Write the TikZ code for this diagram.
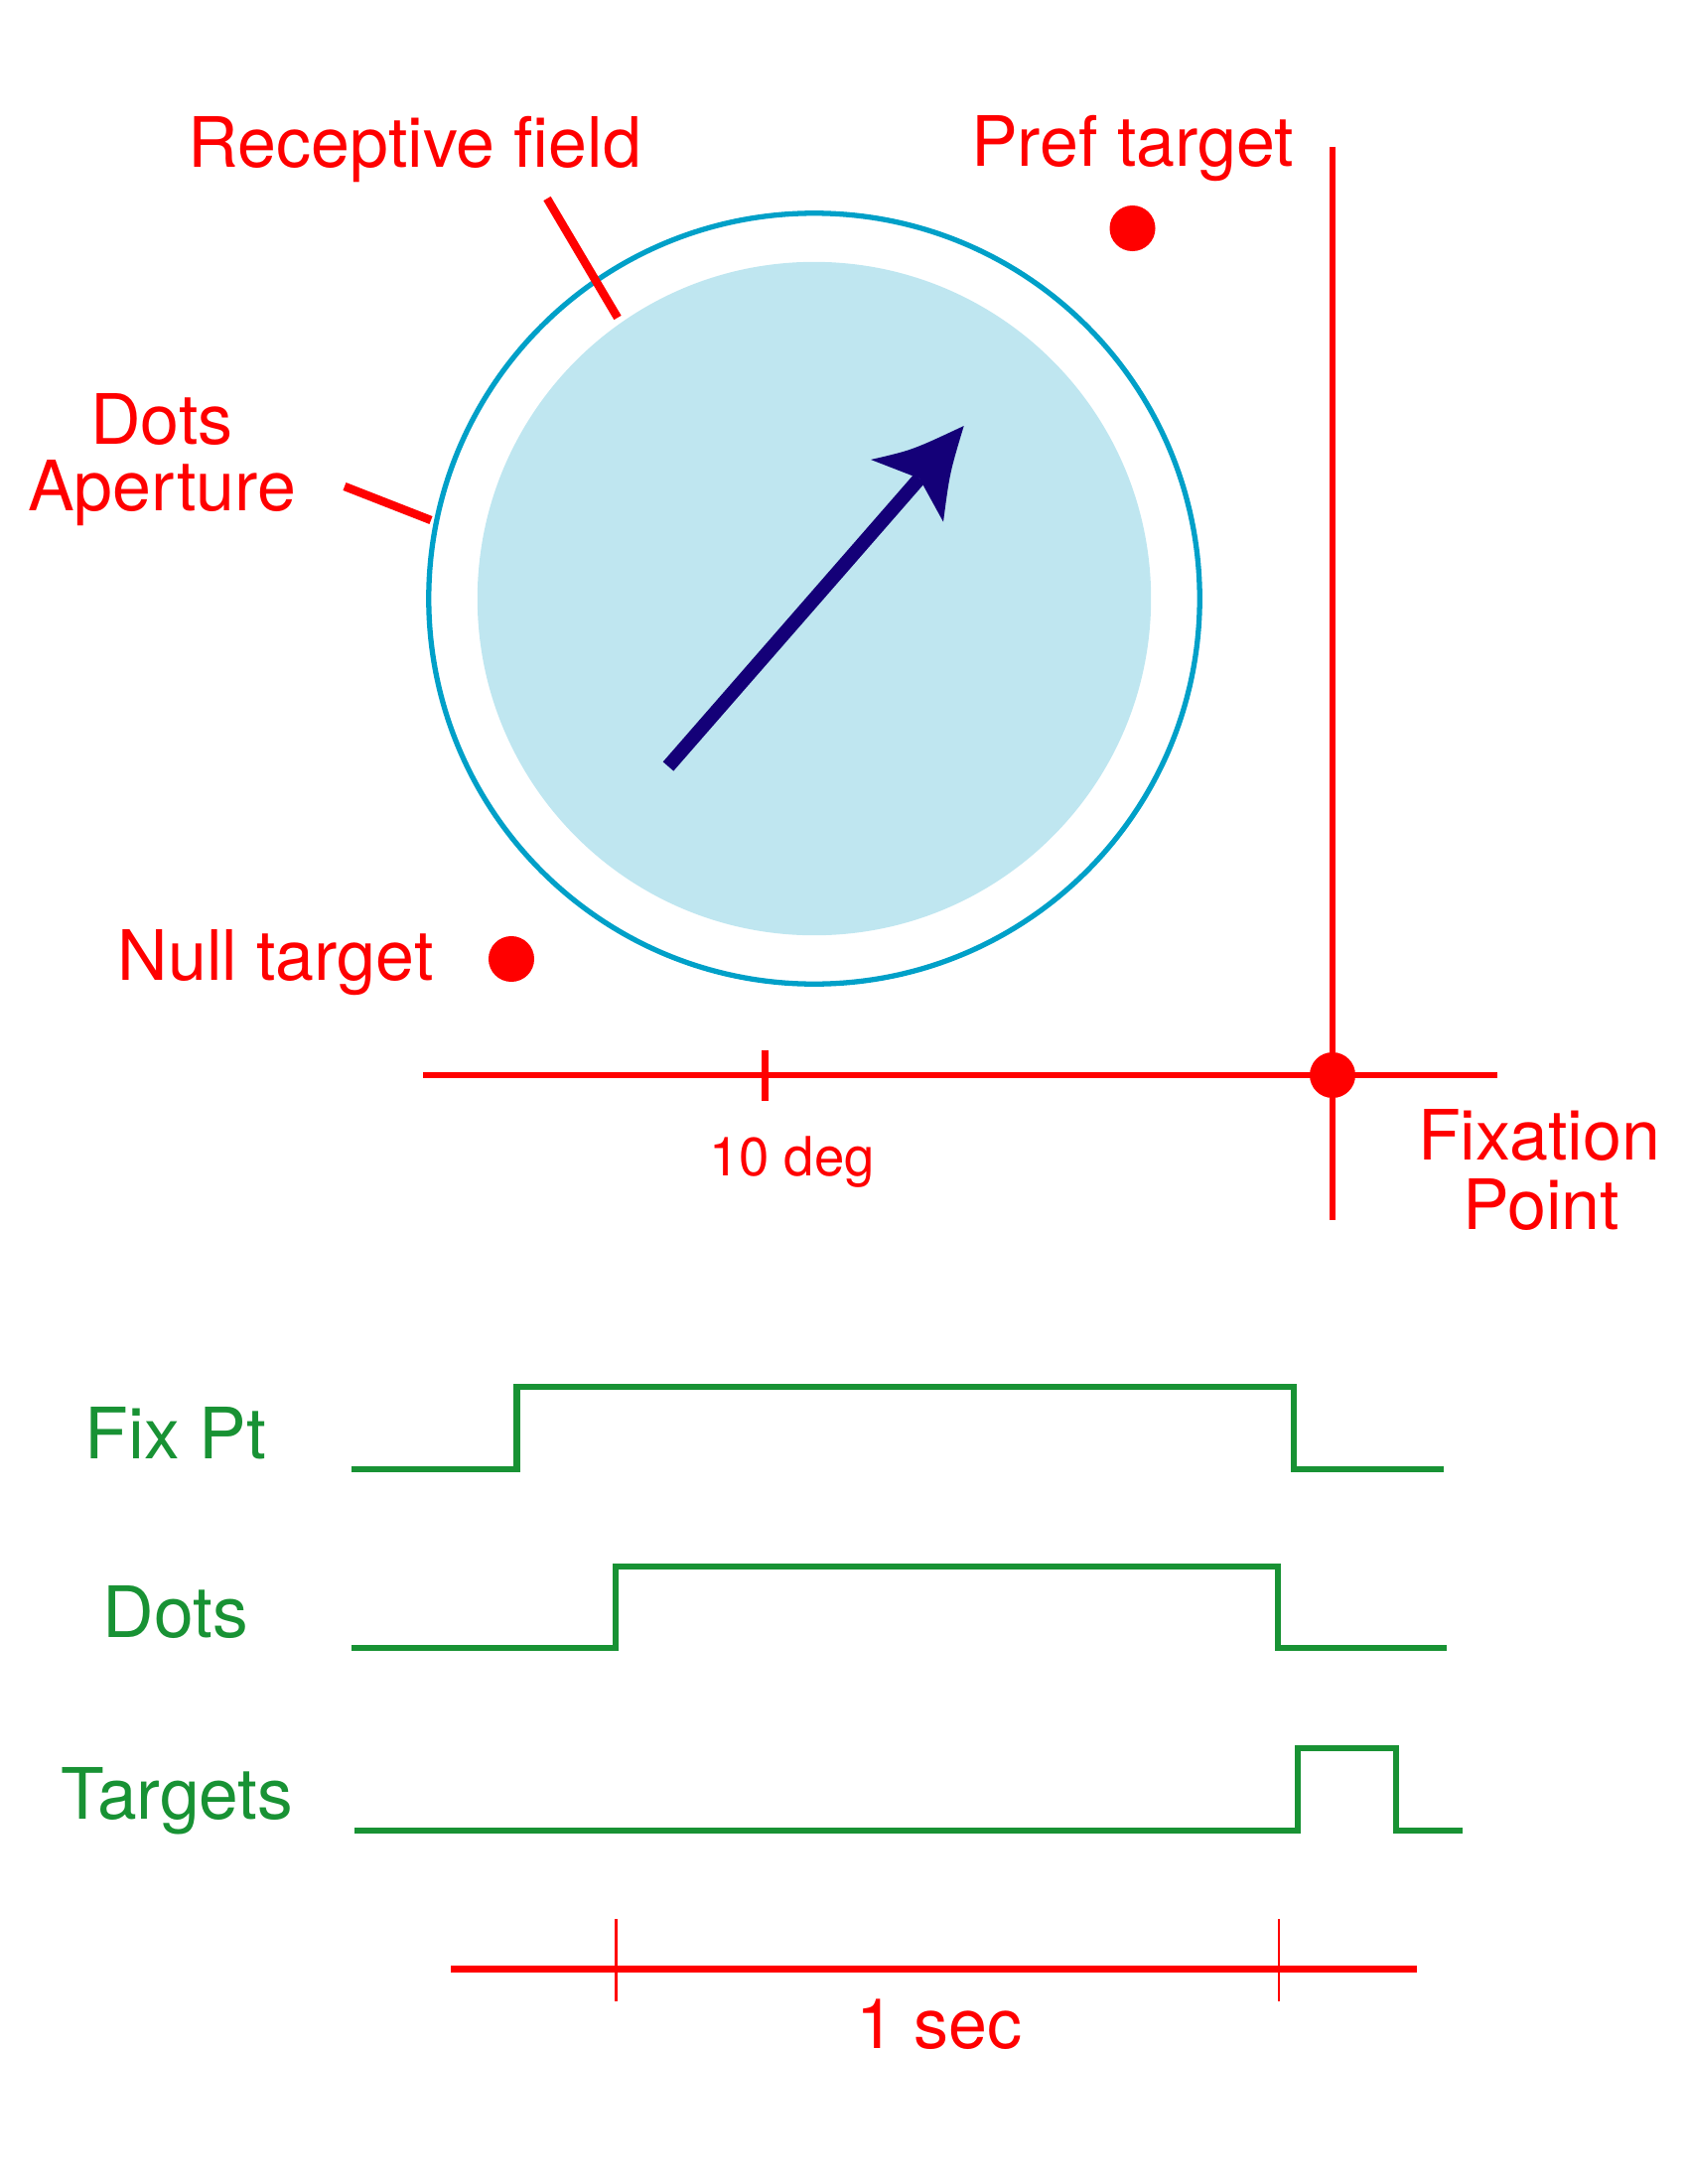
\documentclass[tikz,border=0pt]{standalone}
\usepackage{fontspec}
\setmainfont{TeX Gyre Heros}
\definecolor{myred}{RGB}{255,0,0}
\definecolor{mygreen}{RGB}{24,146,52}
\definecolor{rfcyan}{RGB}{0,160,200}
\definecolor{aperfill}{RGB}{191,230,240}
\definecolor{arrownavy}{RGB}{20,0,120}
\begin{document}
\begin{tikzpicture}[x=0.01cm,y=-0.01cm,
  redline/.style={draw=myred,line width=1.9pt},
  pointer/.style={draw=myred,line width=2.4pt},
  thintick/.style={draw=myred,line width=0.6pt},
  wave/.style={draw=mygreen,line width=1.9pt,line join=miter},
  lbl/.style={inner sep=0pt,anchor=base,text=myred,font=\fontsize{19.9}{19.9}\selectfont},
  glbl/.style={lbl,text=mygreen,font=\fontsize{20.3}{20.3}\selectfont},
  target/.style={circle,fill=myred,inner sep=0pt,minimum size=0.46cm}]
\useasboundingbox (0,0) rectangle (1700,2200);
% receptive field and aperture
\node[circle,draw=rfcyan,line width=1.5pt,inner sep=0pt,minimum size=7.76cm] (rf) at (820,603) {};
\node[circle,fill=aperfill,inner sep=0pt,minimum size=6.78cm] (ap) at (820,603) {};
% motion arrow
\coordinate (atail) at (673,772);
\coordinate (anotch) at (926,482);
\coordinate (atip) at (970.7,429);
\coordinate (abarbl) at (877,463);
\coordinate (abarbr) at (950,525.7);
\draw[arrownavy,line width=4pt] (atail) -- (anotch);
\fill[arrownavy] (atip) .. controls (918.7,453.4) .. (abarbl) -- (anotch) -- (abarbr) .. controls (956.5,476.3) .. (atip) -- cycle;
% labels top
\node[lbl] (rflbl) at (418,169) {Receptive field};
\node[lbl] (preflbl) at (1140.5,168) {Pref target};
\node[lbl] (dotslbl) at (163,447) {Dots};
\node[lbl] (aperlbl) at (163,514) {Aperture};
\node[lbl] (nulllbl) at (277.5,987) {Null target};
\node[lbl,font=\fontsize{15.5}{15.5}\selectfont] (deglbl) at (797.5,1184) {10 deg};
\node[lbl] (fixlbl) at (1550,1168) {Fixation};
\node[lbl] (pointlbl) at (1552,1238) {Point};
% pointers
\coordinate (rfp1) at (551,200);
\coordinate (rfp2) at (622,320);
\coordinate (app1) at (347,490);
\coordinate (app2) at (434,524);
\draw[pointer] (rfp1) -- (rfp2);
\draw[pointer] (app1) -- (app2);
% axes
\coordinate (vtop) at (1342,148);
\coordinate (vbot) at (1342,1229);
\coordinate (hleft) at (426,1083);
\coordinate (hright) at (1508,1083);
\coordinate (degt1) at (770.5,1057.5);
\coordinate (degt2) at (770.5,1109);
\draw[redline] (vtop) -- (vbot);
\draw[redline] (hleft) -- (hright);
\draw[redline] (degt1) -- (degt2);
\node[target] (fixdot) at (1342,1083) {};
\node[target] (prefdot) at (1140.5,230) {};
\node[target] (nulldot) at (515,966) {};
% timing labels
\node[glbl] (fixptlbl) at (177,1469) {Fix Pt};
\node[glbl] (dotstlbl) at (177,1649) {Dots};
\node[glbl] (targlbl) at (178.5,1832) {Targets};
% waveforms
\coordinate (f0) at (354,1480); \coordinate (f1) at (520.4,1480); \coordinate (f2) at (520.4,1397);
\coordinate (f3) at (1303,1397); \coordinate (f4) at (1303,1480); \coordinate (f5) at (1453.5,1480);
\draw[wave] (f0) -- (f1) -- (f2) -- (f3) -- (f4) -- (f5);
\coordinate (d0) at (354,1660); \coordinate (d1) at (620,1660); \coordinate (d2) at (620,1578);
\coordinate (d3) at (1287,1578); \coordinate (d4) at (1287,1660); \coordinate (d5) at (1457,1660);
\draw[wave] (d0) -- (d1) -- (d2) -- (d3) -- (d4) -- (d5);
\coordinate (t0) at (357,1844); \coordinate (t1) at (1307,1844); \coordinate (t2) at (1307,1761);
\coordinate (t3) at (1406,1761); \coordinate (t4) at (1406,1844); \coordinate (t5) at (1473,1844);
\draw[wave] (t0) -- (t1) -- (t2) -- (t3) -- (t4) -- (t5);
% time scale bar
\coordinate (sb0) at (454,1983.5);
\coordinate (sb1) at (1427,1983.5);
\coordinate (sbt1a) at (620.5,1933); \coordinate (sbt1b) at (620.5,2016);
\coordinate (sbt2a) at (1288,1933); \coordinate (sbt2b) at (1288,2016);
\draw[redline] (sb0) -- (sb1);
\draw[thintick] (sbt1a) -- (sbt1b);
\draw[thintick] (sbt2a) -- (sbt2b);
\node[lbl] (seclbl) at (946,2063) {1 sec};
\end{tikzpicture}
\end{document}
